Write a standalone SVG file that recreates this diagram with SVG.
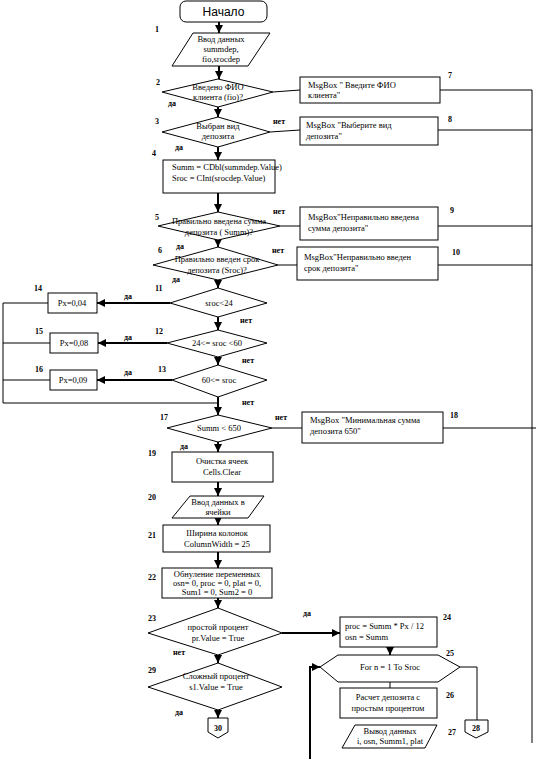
<svg xmlns="http://www.w3.org/2000/svg" width="536" height="759" viewBox="0 0 536 759">
<style>
.s{fill:#fff;stroke:#000;stroke-width:1}
.t{font-family:"Liberation Serif","Times New Roman",serif;font-size:8.5px;fill:#000}
.c{text-anchor:middle}
.n{font-family:"Liberation Serif","Times New Roman",serif;font-size:8px;font-weight:bold;fill:#000}
.l{fill:none;stroke:#000;stroke-width:1}
.k{fill:none;stroke:#000;stroke-width:2}
</style>
<defs>
<marker id="a" viewBox="0 0 10 10" refX="10" refY="5" markerWidth="8" markerHeight="8" markerUnits="userSpaceOnUse" orient="auto"><path d="M0,0L10,5L0,10z" fill="#000"/></marker>
</defs>
<rect width="536" height="759" fill="#fff"/>
<g id="connectors">
<line class="k" x1="219" y1="22" x2="219" y2="33" marker-end="url(#a)"/>
<line class="k" x1="219" y1="66" x2="219" y2="79" marker-end="url(#a)"/>
<line class="k" x1="218" y1="107" x2="218" y2="117" marker-end="url(#a)"/>
<line class="k" x1="218" y1="147" x2="218" y2="160" marker-end="url(#a)"/>
<line class="k" x1="218" y1="193" x2="218" y2="212" marker-end="url(#a)"/>
<line class="k" x1="218" y1="240" x2="218" y2="247" marker-end="url(#a)"/>
<line class="k" x1="218" y1="280" x2="218" y2="288" marker-end="url(#a)"/>
<line class="k" x1="218" y1="317" x2="218" y2="330" marker-end="url(#a)"/>
<line class="k" x1="218" y1="357" x2="218" y2="365" marker-end="url(#a)"/>
<line class="k" x1="218" y1="397" x2="218" y2="415" marker-end="url(#a)"/>
<line class="k" x1="218" y1="442" x2="218" y2="452" marker-end="url(#a)"/>
<line class="k" x1="218" y1="482" x2="218" y2="496" marker-end="url(#a)"/>
<line class="k" x1="218" y1="518" x2="218" y2="525" marker-end="url(#a)"/>
<line class="k" x1="218" y1="552" x2="218" y2="568" marker-end="url(#a)"/>
<line class="k" x1="218" y1="598" x2="218" y2="608" marker-end="url(#a)"/>
<line class="k" x1="218" y1="655" x2="218" y2="663" marker-end="url(#a)"/>
<line class="k" x1="218" y1="710" x2="218" y2="718" marker-end="url(#a)"/>
<polyline class="l" points="273,92 300,90"/>
<polyline class="l" points="270,132 300,130"/>
<polyline class="l" points="280,226 300,226"/>
<polyline class="l" points="278,265 297,265"/>
<polyline class="l" points="272,428 302,428"/>
<polyline class="l" points="440,90 532,90 532,743"/>
<polyline class="l" points="438,130 532,130"/>
<polyline class="l" points="438,226 532,226"/>
<polyline class="l" points="438,265 532,265"/>
<polyline class="l" points="443,428 536,428"/>
<line class="k" x1="170" y1="303" x2="97" y2="303" marker-end="url(#a)"/>
<line class="k" x1="167" y1="343" x2="98" y2="343" marker-end="url(#a)"/>
<line class="k" x1="172" y1="380" x2="97" y2="380" marker-end="url(#a)"/>
<polyline class="l" points="48,303 3,303 3,403 218,403"/>
<polyline class="l" points="50,343 3,343"/>
<polyline class="l" points="50,380 3,380"/>
<line class="k" x1="282" y1="633" x2="340" y2="633" marker-end="url(#a)"/>
<line class="k" x1="390" y1="647" x2="390" y2="655" marker-end="url(#a)"/>
<line class="l" x1="390" y1="682" x2="390" y2="688"/>
<polyline class="l" points="460,667 477,667 477,720"/>
<polyline class="k" points="310,759 310,667 320,667" marker-end="url(#a)"/>
</g>
<g id="n0"><rect class="s" x="180" y="1" width="87" height="21" rx="6"/><text x="223.5" y="16" text-anchor="middle" font-family="Liberation Sans,Arial,sans-serif" font-size="12">Начало</text></g>
<g id="n1"><polygon class="s" points="193,33 270,33 248,66 172,66"/><text class="t c" x="221" y="42">Ввод данных</text><text class="t c" x="221" y="52">summdep,</text><text class="t c" x="221" y="62">fio,srocdep</text><text class="n" x="155" y="32">1</text></g>
<g id="n2"><polygon class="s" points="218,79 273,92 218,107 162,92"/><text class="t c" x="218" y="90">Введено ФИО</text><text class="t c" x="218" y="100">клиента (fio)?</text><text class="n" x="156" y="85">2</text><text class="n" x="168" y="106">да</text></g>
<g id="n3"><polygon class="s" points="218,117 270,132 218,147 162,132"/><text class="t c" x="218" y="129">Выбран вид</text><text class="t c" x="218" y="139">депозита</text><text class="n" x="155" y="124">3</text><text class="n" x="273" y="124">нет</text><text class="n" x="175" y="150">да</text></g>
<g id="n4"><rect class="s" x="163" y="160" width="112" height="33"/><text class="t" x="172" y="170">Summ = CDbl(summdep.Value)</text><text class="t" x="172" y="181">Sroc = CInt(srocdep.Value)</text><text class="n" x="152" y="156">4</text></g>
<g id="n5"><polygon class="s" points="218,212 280,226 218,240 158,226"/><text class="t c" x="219" y="224">Правильно введена сумма</text><text class="t c" x="219" y="235">депозита ( Summ)?</text><text class="n" x="155" y="220">5</text><text class="n" x="273" y="214">нет</text><text class="n" x="176" y="249">да</text></g>
<g id="n6"><polygon class="s" points="218,247 278,265 218,280 153,265"/><text class="t c" x="217" y="262">Правильно введен срок</text><text class="t c" x="217" y="273">депозита (Sroc)?</text><text class="n" x="158" y="253">6</text><text class="n" x="272" y="253">нет</text><text class="n" x="172" y="282">да</text></g>
<g id="n7"><rect class="s" x="300" y="77" width="140" height="26"/><text class="t" x="308" y="88">MsgBox " Введите ФИО</text><text class="t" x="308" y="98">клиента"</text><text class="n" x="448" y="78">7</text></g>
<g id="n8"><rect class="s" x="300" y="117" width="138" height="28"/><text class="t" x="306" y="128">MsgBox "Выберите вид</text><text class="t" x="306" y="139">депозита"</text><text class="n" x="448" y="122">8</text></g>
<g id="n9"><rect class="s" x="300" y="207" width="138" height="33"/><text class="t" x="308" y="220">MsgBox"Неправильно введена</text><text class="t" x="308" y="231">сумма депозита"</text><text class="n" x="450" y="213">9</text></g>
<g id="n10"><rect class="s" x="297" y="247" width="141" height="33"/><text class="t" x="304" y="260">MsgBox"Неправильно введен</text><text class="t" x="304" y="271">срок депозита"</text><text class="n" x="452" y="255">10</text></g>
<g id="n11"><polygon class="s" points="218,288 267,303 218,317 170,303"/><text class="t c" x="219" y="306">sroc&lt;24</text><text class="n" x="155" y="291">11</text><text class="n" x="124" y="299">да</text><text class="n" x="240" y="323">нет</text></g>
<g id="n12"><polygon class="s" points="218,330 267,343 218,357 167,343"/><text class="t c" x="217" y="346">24&lt;= sroc &lt;60</text><text class="n" x="155" y="334">12</text><text class="n" x="124" y="340">да</text><text class="n" x="242" y="363">нет</text></g>
<g id="n13"><polygon class="s" points="218,365 267,380 218,397 172,380"/><text class="t c" x="219" y="383">60&lt;= sroc</text><text class="n" x="158" y="372">13</text><text class="n" x="124" y="375">да</text><text class="n" x="242" y="405">нет</text></g>
<g id="n14"><rect class="s" x="48" y="293" width="49" height="20"/><text class="t c" x="72" y="306">Px=0,04</text><text class="n" x="34" y="291">14</text></g>
<g id="n15"><rect class="s" x="50" y="333" width="48" height="20"/><text class="t c" x="74" y="346">Px=0,08</text><text class="n" x="35" y="334">15</text></g>
<g id="n16"><rect class="s" x="50" y="370" width="47" height="20"/><text class="t c" x="73" y="383">Px=0,09</text><text class="n" x="35" y="372">16</text></g>
<g id="n17"><polygon class="s" points="218,415 272,428 218,442 167,428"/><text class="t c" x="219" y="431">Summ &lt; 650</text><text class="n" x="160" y="420">17</text><text class="n" x="275" y="420">нет</text><text class="n" x="180" y="449">да</text></g>
<g id="n18"><rect class="s" x="302" y="412" width="141" height="31"/><text class="t" x="310" y="423">MsgBox "Минимальная сумма</text><text class="t" x="310" y="434">депозита 650"</text><text class="n" x="450" y="418">18</text></g>
<g id="n19"><rect class="s" x="172" y="452" width="101" height="30"/><text class="t c" x="222" y="464">Очистка ячеек</text><text class="t c" x="222" y="475">Cells.Clear</text><text class="n" x="148" y="456">19</text></g>
<g id="n20"><polygon class="s" points="190,496 264,496 248,518 172,518"/><text class="t c" x="218" y="505">Ввод данных в</text><text class="t c" x="218" y="515">ячейки</text><text class="n" x="148" y="500">20</text></g>
<g id="n21"><rect class="s" x="163" y="525" width="107" height="27"/><text class="t c" x="217" y="536">Ширина колонок</text><text class="t c" x="217" y="547">ColumnWidth = 25</text><text class="n" x="148" y="538">21</text></g>
<g id="n22"><rect class="s" x="162" y="568" width="110" height="30"/><text class="t c" x="217" y="577">Обнуление переменных</text><text class="t c" x="217" y="586">osn= 0, proc = 0, plat = 0,</text><text class="t c" x="217" y="595">Sum1 = 0, Sum2 = 0</text><text class="n" x="148" y="580">22</text></g>
<g id="n23"><polygon class="s" points="218,608 282,633 218,655 148,633"/><text class="t c" x="218" y="630">простой процент</text><text class="t c" x="218" y="641">pr.Value = True</text><text class="n" x="148" y="621">23</text><text class="n" x="173" y="655">нет</text><text class="n" x="303" y="616">да</text></g>
<g id="n29"><polygon class="s" points="218,663 282,687 218,710 148,687"/><text class="t c" x="216" y="679">Сложный процент</text><text class="t c" x="216" y="690">s1.Value = True</text><text class="n" x="148" y="673">29</text><text class="n" x="175" y="715">да</text></g>
<g id="n30"><polygon class="s" points="208,718 228,718 228,732 218,738 208,732"/><text class="n c" x="218" y="731">30</text></g>
<g id="n24"><rect class="s" x="340" y="617" width="97" height="30"/><text class="t" x="345" y="629">proc = Summ * Px / 12</text><text class="t" x="345" y="640">osn = Summ</text><text class="n" x="443" y="620">24</text></g>
<g id="n25"><polygon class="s" points="320,667 338,655 438,655 460,667 438,682 338,682"/><text class="t c" x="390" y="670">For n = 1 To Sroc</text><text class="n" x="446" y="656">25</text></g>
<g id="n26"><rect class="s" x="340" y="688" width="97" height="30"/><text class="t c" x="388" y="700">Расчет депозита с</text><text class="t c" x="388" y="711">простым процентом</text><text class="n" x="446" y="698">26</text></g>
<g id="n27"><polygon class="s" points="355,725 437,725 425,748 342,748"/><text class="t c" x="390" y="734">Вывод данных</text><text class="t c" x="390" y="744">i, osn, Summ1, plat</text><text class="n" x="448" y="735">27</text></g>
<g id="n28"><polygon class="s" points="465,720 488,720 488,732 476,738 465,732"/><text class="n c" x="476" y="731">28</text></g>
</svg>
